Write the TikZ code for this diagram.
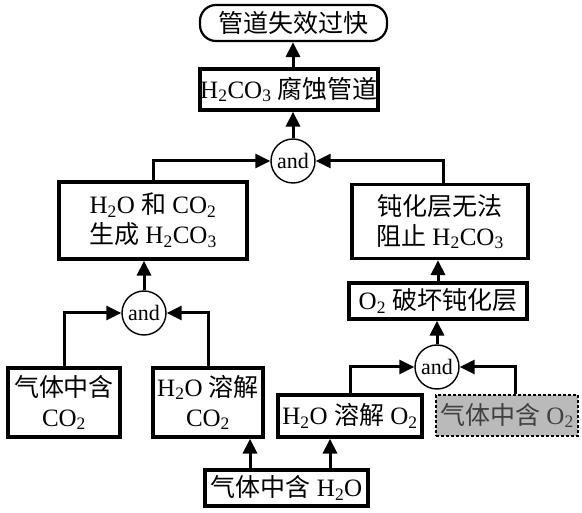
\documentclass[tikz,border=0pt]{standalone}
\usepackage{fontspec}
\setmainfont{Liberation Serif}
\newfontfamily\cjk{Noto Sans CJK SC}
\usetikzlibrary{arrows.meta}
\newcommand\chsub[1]{\textsubscript{#1}}
\tikzset{
  box/.style={draw, line width=3.2pt, inner sep=0pt, align=center, font=\fontsize{25}{30}\selectfont},
  gate/.style={draw, circle, line width=1.4pt, minimum size=44pt, inner sep=0pt, font=\fontsize{22}{24}\selectfont},
  arr/.style={line width=3pt, -{Triangle[length=15pt,width=14pt]}},
  gbox/.style={draw, dashed, dash pattern=on 3pt off 2pt, line width=1.2pt, fill=black!27, text=black!75, inner sep=0pt, align=center, font=\fontsize{25}{30}\selectfont}
}
\begin{document}
\begin{tikzpicture}[x=1pt,y=-1pt]
\useasboundingbox (0,0) rectangle (582,513);
% nodes
\node[box, line width=2.2pt, rounded corners=16pt, minimum width=187pt, minimum height=36pt] (top) at (293.5,23) {\cjk 管道失效过快};
\node[box, minimum width=178pt, minimum height=41pt] (h2co3) at (289,89.5) {H\chsub{2}CO\chsub{3} {\cjk 腐蚀管道}};
\node[gate] (and1) at (293,161) {and};
\node[box, minimum width=188pt, minimum height=77pt] (form) at (153,220.5) {H\chsub{2}O {\cjk 和} CO\chsub{2}\\{\cjk 生成} H\chsub{2}CO\chsub{3}};
\node[box, minimum width=176pt, minimum height=74pt] (pass) at (440,221.5) {{\cjk 钝化层无法}\\{\cjk 阻止} H\chsub{2}CO\chsub{3}};
\node[box, minimum width=178pt, minimum height=36pt] (o2b) at (438,301) {O\chsub{2} {\cjk 破坏钝化层}};
\node[gate] (and2) at (144,313) {and};
\node[box, minimum width=112pt, minimum height=69pt] (gco2) at (64,402.5) {{\cjk 气体中含}\\CO\chsub{2}};
\node[box, minimum width=110pt, minimum height=69pt] (dco2) at (208,402.5) {H\chsub{2}O {\cjk 溶解}\\CO\chsub{2}};
\node[gate] (and3) at (437,367) {and};
\node[box, minimum width=144pt, minimum height=42pt] (do2) at (350,416) {H\chsub{2}O {\cjk 溶解} O\chsub{2}};
\node[gbox, minimum width=142pt, minimum height=41pt] (go2) at (507,415.5) {{\cjk 气体中含} O\chsub{2}};
\node[box, minimum width=163pt, minimum height=36pt] (gh2o) at (286.5,488) {{\cjk 气体中含} H\chsub{2}O};
% connectors
\draw[arr] (h2co3.north -| and1) -- (top.south -| and1);
\draw[arr] (and1.north) -- (and1.north |- h2co3.south);
\draw[arr] (form.north) |- (and1.west);
\draw[arr] ([xshift=3pt]pass.north) |- (and1.east);
\draw[arr] (o2b.north) -- (o2b.north |- pass.south);
\draw[arr] (and3.north) -- (and3.north |- o2b.south);
\draw[arr] (do2.north) |- (and3.west);
\draw[arr] ([xshift=8pt]go2.north) |- (and3.east);
\draw[arr] (and2.north) -- (and2.north |- form.south);
\draw[arr] (gco2.north) |- (and2.west);
\draw[arr] (dco2.north) |- (and2.east);
\draw[arr] ([xshift=-36.5pt]gh2o.north) -- ([xshift=-36.5pt]gh2o.north |- dco2.south);
\draw[arr] ([xshift=43.5pt]gh2o.north) -- ([xshift=43.5pt]gh2o.north |- do2.south);
\end{tikzpicture}
\end{document}
